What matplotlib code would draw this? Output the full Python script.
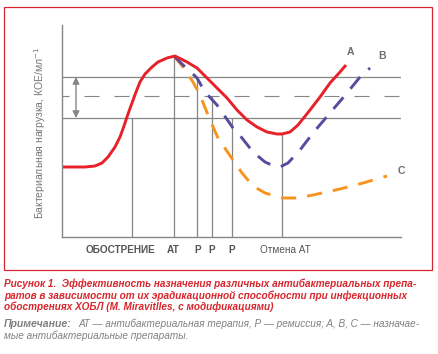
import matplotlib
matplotlib.use("Agg")
import matplotlib.pyplot as plt
from matplotlib.patches import Rectangle

plt.rcParams['font.family'] = ['Liberation Sans', 'DejaVu Sans']

# ---- data (time units, bacterial load units) ----
curve_a_t = [0, 13, 23, 33, 40, 46, 53, 58, 62, 66, 70, 74, 78, 83, 90, 96, 105, 113,
             125, 135, 145, 155, 165, 175, 185, 195, 205, 215, 220, 228, 236, 248, 258, 268, 278, 284]
curve_a_load = [70, 70, 70, 71, 74, 80, 90, 100, 111, 123, 134, 145, 155, 163, 170, 175, 179, 181,
                175, 169, 159, 149, 139, 127, 117, 110, 105, 103, 103, 105, 112, 127, 140, 154, 165, 172]

curve_b_t = [112, 121, 128, 135, 143, 155, 171, 180, 191, 203, 212, 218, 226, 238, 251, 268, 285, 298, 308]
curve_b_load = [181, 172, 166, 159, 145, 132, 109, 99, 85, 75, 71, 70, 74, 87, 104, 124, 144, 160, 169]

curve_c_t = [112, 121, 131, 138, 148, 156, 171, 180, 191, 203, 220, 236, 251, 278, 301, 325]
curve_c_load = [181, 170, 155, 142, 117, 99, 77, 64, 51, 44, 39, 39, 42, 48, 54, 61]

level_upper = 160
level_middle = 141
level_lower = 119

event_t = [70, 112, 135, 150, 170, 220]
event_top = [119, 181, 160, 141, 119, 103]

tick_pos = [58, 111, 136, 150, 170, 223]
tick_labels = ['ОБОСТРЕНИЕ', 'АТ', 'Р', 'Р', 'Р', 'Отмена АТ']

series_names = ['A', 'B', 'C']

W, H = 438, 354
fig = plt.figure(figsize=(W / 100, H / 100), dpi=100)

def fx(px):
    return px / W

def fy(py):
    return 1 - py / H

ax = fig.add_axes([fx(62), fy(237), (401 - 62) / W, (237 - 25) / H])
ax.set_xlim(0, 339)
ax.set_ylim(0, 212)

gray = '#858585'
for s in ['top', 'right']:
    ax.spines[s].set_visible(False)
for s in ['left', 'bottom']:
    ax.spines[s].set_color(gray)
    ax.spines[s].set_linewidth(1.0)

ax.set_yticks([])
ax.set_xticks(tick_pos)
ax.set_xticklabels(tick_labels)
ax.tick_params(axis='x', length=0, pad=6, labelsize=7.2, colors='#555555')
for lbl in ax.get_xticklabels():
    if lbl.get_text() != 'Отмена АТ':
        lbl.set_fontweight('bold')

# horizontal reference levels
ax.axhline(level_upper, color=gray, lw=0.9)
ax.axhline(level_lower, color=gray, lw=0.9)
ax.axhline(level_middle, color=gray, lw=0.8, linestyle=(7.2, (13.5, 13.5)))

# event verticals
for t, top in zip(event_t, event_top):
    ax.plot([t, t], [0, top], color=gray, lw=0.9, solid_capstyle='butt')

# double arrow
ax.annotate('', xy=(14, level_upper), xytext=(14, level_lower),
            arrowprops=dict(arrowstyle='<|-|>', color=gray, lw=1.0,
                            mutation_scale=10, shrinkA=0, shrinkB=0))

# curves
ax.plot(curve_c_t, curve_c_load, color='#f7941d', lw=2.1, linestyle=(0, (5.2, 3.8)),
        dash_capstyle='butt', dash_joinstyle='round')
ax.plot(curve_b_t, curve_b_load, color='#574b9f', lw=2.1, linestyle=(0, (5.2, 3.8)),
        dash_capstyle='butt', dash_joinstyle='round')
ax.plot(curve_a_t, curve_a_load, color='#e8202a', lw=2.1, solid_capstyle='butt',
        solid_joinstyle='round')

ax.text(curve_a_t[-1] + 4, curve_a_load[-1] + 8, series_names[0], fontsize=7.5,
        fontweight='bold', color='#6d6d6d', ha='center', va='bottom')
ax.text(curve_b_t[-1] + 12, curve_b_load[-1] + 7, series_names[1], fontsize=7.5,
        fontweight='bold', color='#6d6d6d', ha='center', va='bottom')
ax.text(curve_c_t[-1] + 14, curve_c_load[-1] + 5, series_names[2], fontsize=7.5,
        fontweight='bold', color='#6d6d6d', ha='center', va='center')

# y label
fig.text(fx(40), fy(133), 'Бактериальная нагрузка, КОЕ/мл$^{-1}$', rotation=90,
         ha='center', va='center', fontsize=7.5, color='#777777')

# red frame
fig.patches.append(Rectangle((fx(4), fy(270)), (432 - 4) / W, (270 - 7) / H,
                             transform=fig.transFigure, fill=False,
                             edgecolor='#d7262d', lw=0.9))

# caption
red = '#d7262d'
cap = ['Рисунок 1.  Эффективность назначения различных антибактериальных препа-',
       'ратов в зависимости от их эрадикационной способности при инфекционных',
       'обострениях ХОБЛ (M. Miravitlles, с модификациями)']
for i, line in enumerate(cap):
    fig.text(fx(4), fy(284 + i * 11.5), line, fontsize=7.2, fontweight='bold',
             style='italic', color=red, ha='left', va='center')

fig.text(fx(4), fy(324), 'Примечание:', fontsize=7.6, fontweight='bold',
         style='italic', color='#808080', ha='left', va='center')
fig.text(fx(79), fy(324), 'АТ — антибактериальная терапия, Р — ремиссия; A, B, C — назначае-',
         fontsize=7.2, style='italic', color='#808080', ha='left', va='center')
fig.text(fx(4), fy(335.5), 'мые антибактериальные препараты.',
         fontsize=7.2, style='italic', color='#808080', ha='left', va='center')

fig.savefig('out.png', dpi=100)
